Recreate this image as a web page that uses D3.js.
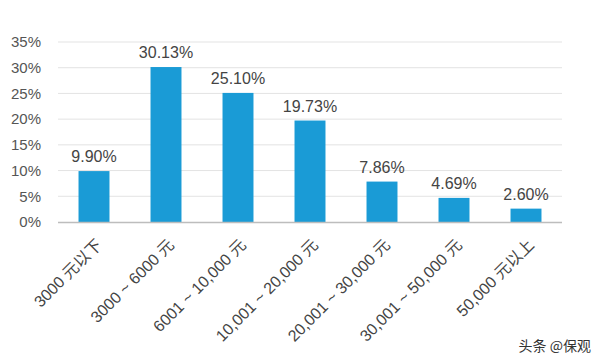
<!DOCTYPE html>
<html>
<head>
<meta charset="utf-8">
<script src="https://cdn.jsdelivr.net/npm/d3@7"></script>
<style>
  body { margin: 0; background: #fff; }
  svg { display: block; }
</style>
</head>
<body>
<svg id="chart" width="600" height="364"></svg>
<script>
// income brackets and share of respondents (%)
const categories = ["3000 元以下", "3000 ~ 6000 元", "6001 ~ 10,000 元", "10,001 ~ 20,000 元",
                    "20,001 ~ 30,000 元", "30,001 ~ 50,000 元", "50,000 元以上"];
const values = [9.90, 30.13, 25.10, 19.73, 7.86, 4.69, 2.60];
const yTicks = [0, 5, 10, 15, 20, 25, 30, 35];

const svg = d3.select("#chart");
const font = "'Liberation Sans', Arial, 'Noto Sans CJK SC', sans-serif";

let plotLeft = 58, plotRight = 562, plotTop = 42, plotBottom = 222;

let x = d3.scaleBand().domain(categories).range([plotLeft, plotRight]).paddingInner(0.57).paddingOuter(0.285);
let y = d3.scaleLinear().domain([0, 35]).range([plotBottom, plotTop]);

// gridlines
svg.append("g")
    .selectAll("line")
    .data(yTicks.filter(t => t > 0))
    .join("line")
    .attr("x1", plotLeft).attr("x2", plotRight)
    .attr("y1", d => y(d)).attr("y2", d => y(d))
    .attr("stroke", "#e3e3e3")
    .attr("stroke-width", 1);

// y axis labels
let yAxis = svg.append("g")
    .attr("transform", `translate(${plotLeft - 14},0)`)
    .call(d3.axisLeft(y).tickValues(yTicks).tickSize(0).tickFormat(d => d + "%"));
yAxis.select(".domain").remove();
yAxis.selectAll("text")
    .attr("font-family", font)
    .attr("font-size", 15)
    .attr("fill", "#555");

// bars
svg.append("g")
    .selectAll("rect")
    .data(values)
    .join("rect")
    .attr("x", (d, i) => x(categories[i]))
    .attr("y", d => y(d))
    .attr("width", x.bandwidth())
    .attr("height", d => y(0) - y(d))
    .attr("fill", "#1a9bd6");

// value labels
svg.append("g")
    .selectAll("text")
    .data(values)
    .join("text")
    .attr("x", (d, i) => x(categories[i]) + x.bandwidth() / 2)
    .attr("y", d => y(d) - 9)
    .attr("text-anchor", "middle")
    .attr("font-family", font)
    .attr("font-size", 16)
    .attr("fill", "#444")
    .text(d => d.toFixed(2) + "%");

// x axis line
svg.append("line")
    .attr("x1", plotLeft).attr("x2", plotRight)
    .attr("y1", plotBottom + 0.5).attr("y2", plotBottom + 0.5)
    .attr("stroke", "#bdbdbd")
    .attr("stroke-width", 1.5);

// x labels, rotated
svg.append("g")
    .selectAll("text")
    .data(categories)
    .join("text")
    .attr("transform", d => `translate(${x(d) + x.bandwidth() / 2 + 5},${plotBottom + 20}) rotate(-45)`)
    .attr("text-anchor", "end")
    .attr("dy", "0.35em")
    .attr("font-family", font)
    .attr("font-size", 16)
    .attr("fill", "#444")
    .text(d => d);

// watermark
svg.append("text")
    .attr("x", 591).attr("y", 351)
    .attr("text-anchor", "end")
    .attr("font-family", "'Noto Sans CJK SC', sans-serif")
    .attr("font-size", 14)
    .attr("fill", "#333")
    .text("头条 @保观");
</script>
</body>
</html>
